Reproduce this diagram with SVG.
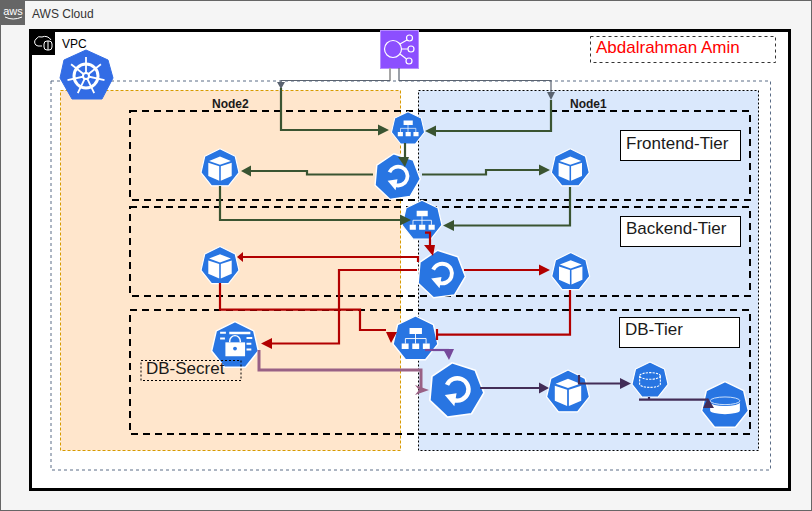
<svg xmlns="http://www.w3.org/2000/svg" xmlns:xlink="http://www.w3.org/1999/xlink" width="812" height="511" viewBox="0 0 812 511">
<style>
text{font-family:"Liberation Sans",Arial,sans-serif;fill:#000}
.tier{fill:none;stroke:#000;stroke-width:2;stroke-dasharray:7 5}
.lbl{fill:#fff;stroke:#000;stroke-width:1}
.t17{font-size:17px;fill:#1a1a1a}
.w{fill:#fff}
.hept{fill:#2875e2;stroke:#fff;stroke-width:3;stroke-linejoin:round}
.c{fill:none;stroke-width:2.2}
.g{stroke:#3a5431}.gf{fill:#3a5431}
.r{stroke:#b20000}.rf{fill:#b20000}
.m{stroke:#996185;stroke-width:3}.mf{fill:#996185}
.p{stroke:#76499b}.pf{fill:#76499b}
.d{stroke:#432d57}.df{fill:#432d57}
.gr{stroke:#5a6370;stroke-width:1.2}.grf{fill:#5a6370}
</style>
<defs>
<polygon id="h" class="hept" points="0,-50 39,-31 48.7,11 21.7,45 -21.7,45 -48.7,11 -39,-31"/>
<g id="pod">
<use href="#h"/>
<path class="w" d="M0,-30 L28,-19 L0,-9 L-28,-19Z M-30,-14 L-2,-5 L-2,32 L-30,20Z M30,-14 L2,-5 L2,32 L30,20Z"/>
</g>
<g id="svc">
<use href="#h"/>
<path class="w" d="M-13,-24h27v13h-27z M-30,10h15v12h-15z M-7,10h15v12h-15z M16,10h15v12h-15z"/>
<path fill="none" stroke="#fff" stroke-width="2" d="M0,-11V10 M-22,10V-1H23V10"/>
</g>
<g id="rs">
<use href="#h" transform="rotate(-8)"/>
<path fill="none" stroke="#fff" stroke-width="8" d="M-16,-10A20,20 0 1 1 -4,17"/>
<path class="w" d="M-20,8 L1,5 L-3,28Z"/>
</g>
<g id="lock">
<use href="#h"/>
<path class="w" d="M-12,-29h44v5h-44z M-31,-29h12v4h-12z M-31,-17h10v4h-10z M24,-18h12v4h-12z M24,-6h10v4h-10z M24,6h10v4h-10z"/>
<path class="w" d="M-20,-7H21V22H-20Z"/>
<path fill="none" stroke="#fff" stroke-width="3" d="M-11,-7V-10A11,11 0 0 1 11,-10V-7"/>
<circle cx="0" cy="6" r="4" fill="#2875e2"/>
</g>
<g id="pvc">
<use href="#h"/>
<ellipse cx="0" cy="-12" rx="28" ry="9" fill="none" stroke="#fff" stroke-width="3" stroke-dasharray="6 3"/>
<path fill="none" stroke="#fff" stroke-width="3" stroke-dasharray="6 3" d="M-28,-12V10A28,9 0 0 0 28,10V-12"/>
</g>
<g id="pv">
<use href="#h"/>
<ellipse cx="0" cy="-10" rx="31" ry="8" fill="none" stroke="#cfe2fb" stroke-width="2"/>
<path class="w" d="M-31,-7A31,8 0 0 0 31,-7V10A31,8 0 0 1 -31,10Z"/>
</g>
</defs>

<g id="aws-cloud">
<rect x="0.5" y="0.5" width="811" height="510" fill="#f5f5f5" stroke="#666"/>
<rect x="0" y="0" width="25" height="25" fill="#666"/>
<text x="13" y="15" font-size="11" text-anchor="middle" style="fill:#fff">aws</text>
<path d="M5,17Q13,21 22,17" fill="none" stroke="#fff" stroke-width="1"/>
<text x="32" y="18" font-size="12" style="fill:#333">AWS Cloud</text>
</g>
<g id="vpc">
<rect x="30.5" y="30.5" width="759" height="459" fill="#fff" stroke="#000" stroke-width="3"/>
<rect x="30" y="29" width="25" height="26" fill="#000"/>
<path d="M42,46H38A4,4 0 0 1 36,39A5,5 0 0 1 42,37A7,7 0 0 1 51,40" fill="none" stroke="#fff"/>
<rect x="44" y="41" width="8" height="9" rx="3" fill="none" stroke="#fff"/>
<path d="M48,41V50" stroke="#fff"/>
<text x="62" y="48" font-size="12">VPC</text>
</g>
<g id="cluster-border"><rect x="51" y="81" width="719.5" height="389" fill="none" stroke="#5a6c86" stroke-dasharray="3 3"/></g>
<g id="node2">
<rect x="60.5" y="90.5" width="340" height="360" fill="#ffe6cc" stroke="#d79b00" stroke-dasharray="3 2"/>
<text x="212" y="108" font-size="12" font-weight="bold" style="fill:#1a1a1a">Node2</text>
</g>
<g id="node1">
<rect x="418.5" y="90.5" width="340" height="360" fill="#dae8fc" stroke="#000" stroke-dasharray="2 2"/>
<text x="570" y="108" font-size="12" font-weight="bold" style="fill:#1a1a1a">Node1</text>
</g>
<g id="k8s">
<polygon points="86,50 108,60 113,78 102,99 72,99 60,78 64,60" fill="#326ce5" stroke="#326ce5" stroke-width="1" stroke-linejoin="round"/>
<g fill="none" stroke="#fff">
<circle cx="86" cy="76" r="12" stroke-width="3"/>
<path stroke-width="1.8" d="M86,76V57 M86,76L100.900,64.200 M86,76L104.500,80.200 M86,76L94.200,93.100 M86,76L77.800,93.100 M86,76L67.500,80.200 M86,76L71.100,64.200"/>
</g>
<circle cx="86" cy="76" r="4" fill="#fff"/>
<circle cx="86" cy="76" r="2" fill="#326ce5"/>
</g>
<g id="frontend-tier"><rect class="tier" x="130" y="111" width="620" height="89"/><rect class="lbl" x="620.5" y="130.5" width="120" height="30"/><text class="t17" x="626" y="149">Frontend-Tier</text></g>
<g id="backend-tier"><rect class="tier" x="130" y="207" width="620" height="89"/><rect class="lbl" x="620.5" y="216.5" width="120" height="30"/><text class="t17" x="626" y="234">Backend-Tier</text></g>
<g id="db-tier"><rect class="tier" x="130" y="310" width="620" height="124"/><rect class="lbl" x="619.5" y="317.5" width="120" height="30"/><text class="t17" x="625" y="335">DB-Tier</text></g>
<g id="author"><rect x="590.5" y="36.5" width="185" height="26" fill="#fff" stroke="#333" stroke-dasharray="3 3"/><text x="596" y="53" font-size="17" style="fill:#ff0000">Abdalrahman Amin</text></g>
<g id="load-balancer">
<rect x="380.500" y="30.500" width="38" height="38" fill="#8c4fff" stroke="#b78eff"/>
<g fill="none" stroke="#fff" stroke-width="1.2">
<circle cx="393" cy="49" r="8.5"/><circle cx="409.500" cy="38" r="3"/><circle cx="411" cy="49" r="3"/><circle cx="409" cy="61" r="3"/>
<path d="M400,44L407,40 M401.500,49H408 M400,54L406.500,59"/>
</g>
</g>
<g id="svc-frontend"><use href="#svc" transform="translate(408 128.700) scale(.34)"/></g>
<g id="rs-frontend"><use href="#rs" transform="translate(397 177) scale(.47)"/></g>
<g id="pod-front-left"><use href="#pod" transform="translate(220 168.300) scale(.39)"/></g>
<g id="pod-front-right"><use href="#pod" transform="translate(570.300 168.300) scale(.39)"/></g>
<g id="svc-backend"><use href="#svc" transform="translate(422 220.700) scale(.41)"/></g>
<g id="rs-backend"><use href="#rs" transform="translate(441 274.500) scale(.49)"/></g>
<g id="pod-back-left"><use href="#pod" transform="translate(220 266) scale(.39)"/></g>
<g id="pod-back-right"><use href="#pod" transform="translate(570.700 272) scale(.39)"/></g>
<g id="svc-db"><use href="#svc" transform="translate(415.500 339) scale(.46)"/></g>
<g id="db-secret"><use href="#lock" transform="translate(235 345.700) scale(.48)"/></g>
<g id="db-secret-label"><rect x="141" y="360.5" width="100" height="20" fill="none" stroke="#000" stroke-dasharray="2 2"/><text class="t17" x="146" y="374">DB-Secret</text></g>
<g id="rs-db"><use href="#rs" transform="translate(456 390.500) scale(.56)"/></g>
<g id="pod-db"><use href="#pod" transform="translate(568 392) scale(.44)"/></g>
<g id="pvc-db"><use href="#pvc" transform="translate(650 380.400) scale(.37)"/></g>
<g id="pv-db"><use href="#pv" transform="translate(725 405.600) scale(.48)"/></g>

<g id="connectors">
<path d="M390,68V81" fill="none" stroke="#a6a6a6" stroke-width="2"/>
<path class="c gr" d="M399,68V81 M390,80.500H281V88 M399,80.500H551V92"/>
<path class="grf" d="M277,82h8l-4,7Z M547,92h8l-4,8Z"/>
<path class="c g" d="M281,88V130H378 M551,100V131H436 M405,143V157 M373,174.500H307V171H250 M422,174.500H486V170H540 M220,186V220H400 M570,187V225.500H454"/>
<path class="gf" d="M378,124.500L389,130L378,135.500Z M436,125.500L425,131L436,136.500Z M398,157H409L405,167Z M251,165.500L241,171L251,176.500Z M539,164.500L550,170L539,175.500Z M400,214.500L411,220L400,225.500Z M454,220L443,225.500L454,231Z"/>
<path class="c r" d="M425,232.700H430V245 M418,262V257H241 M417,270H339V343.500H272 M464,270H539 M220,283V309.700H360V330H386 M570,290V334.700H438 M437,329V340"/>
<path class="rf" d="M424,245H435L433,256Z M243,252L237,257L243,262Z M272,338L261,343.500L272,349Z M539,264.500L550,270L539,275.500Z M386,332H397L391,343Z"/>
<path class="c p" d="M425,350H449"/>
<path class="pf" d="M443,349H454L449,360Z"/>
<path class="c m" d="M259,350V370H421V388"/>
<path class="mf" d="M415,385L429,390L415,395L419,390Z"/>
<path class="c d" d="M480,388H539 M579,375V383.500H620 M639,399.700H708 M649,397V400"/>
<path class="df" d="M539,382.500L549,388L539,393.500Z M620,378L631,383.500L620,389Z M703,408H714L708,398Z"/>
</g>
</svg>
